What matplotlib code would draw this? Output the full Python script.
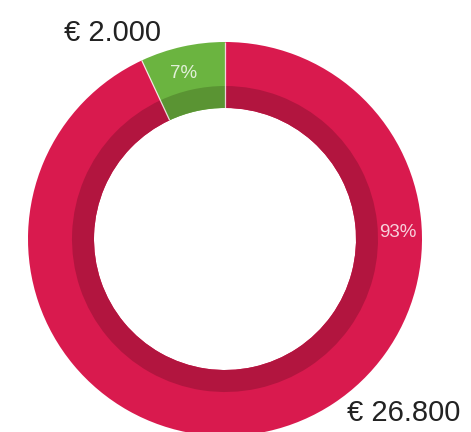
import matplotlib
matplotlib.use("Agg")
import matplotlib.pyplot as plt
import numpy as np

# data
labels = ["€ 2.000", "€ 26.800"]
values = [2000, 26800]
pct_labels = ["7%", "93%"]
colors = ["#6bb440", "#d91a4e"]
dark_colors = ["#5a9433", "#b2153f"]

W, H = 471, 432
fig = plt.figure(figsize=(W / 100, H / 100), dpi=100)
ax = fig.add_axes([0, 0, 1, 1])

cx, cy = 225, H - 239
R, r_band, r_hole = 197, 153, 131

ax.pie(values, colors=colors, startangle=90, counterclock=True,
       radius=R, center=(cx, cy), frame=True,
       wedgeprops=dict(width=R - r_hole, edgecolor="none", linewidth=0))
ax.pie(values, colors=dark_colors, startangle=90, counterclock=True,
       radius=r_band, center=(cx, cy), frame=True,
       wedgeprops=dict(width=r_band - r_hole, edgecolor="none", linewidth=0))

# thin white separators between slices
frac = np.array(values) / sum(values)
bounds = 90 + np.concatenate([[0], np.cumsum(frac)[:-1]]) * 360
for b in bounds:
    a = np.deg2rad(b)
    ax.plot([cx + r_hole * np.cos(a), cx + R * np.cos(a)],
            [cy + r_hole * np.sin(a), cy + R * np.sin(a)],
            color="white", lw=0.9, alpha=0.8, solid_capstyle="butt")

ax.set_xlim(0, W)
ax.set_ylim(0, H)
ax.set_aspect("equal")
ax.axis("off")

# percent labels
green_mid = 90 + frac[0] * 360 / 2
for text, ang, rr in [(pct_labels[0], green_mid + 1.5, 171), (pct_labels[1], 2, 173)]:
    a = np.deg2rad(ang)
    ax.text(cx + rr * np.cos(a), cy + rr * np.sin(a), text, ha="center", va="center",
            fontsize=13.5, color="white", alpha=0.8, family="Liberation Sans")

# value labels
ax.text(113, H - 33, labels[0], ha="center", va="center", fontsize=21,
        color="#222222", family="Liberation Sans")
ax.text(404, H - 413, labels[1], ha="center", va="center", fontsize=21,
        color="#222222", family="Liberation Sans")

fig.savefig("out.png", dpi=100)
